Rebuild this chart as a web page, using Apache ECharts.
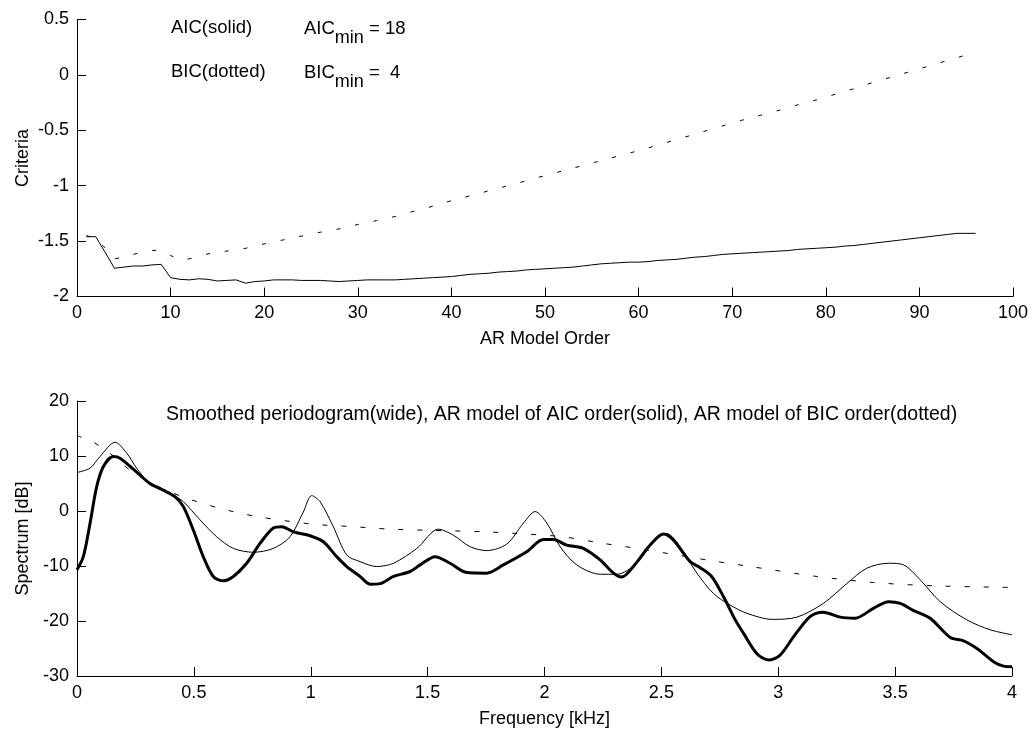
<!DOCTYPE html>
<html>
<head>
<meta charset="utf-8">
<script src="https://cdn.jsdelivr.net/npm/echarts@6/dist/echarts.min.js"></script>
<style>
  html, body { margin: 0; padding: 0; background: #fff; }
  #chart { width: 1033px; height: 731px; }
</style>
</head>
<body>
<div id="chart"></div>
<script>
// ---- Upper panel: order-selection criteria vs AR model order ----
const orders = [
  1, 2, 3, 4, 5, 6, 7, 8, 9, 10, 11, 12, 13, 14, 15, 16, 17, 18, 19, 20,
  21, 22, 23, 24, 25, 26, 27, 28, 29, 30, 31, 32, 33, 34, 35, 36, 37, 38, 39, 40,
  41, 42, 43, 44, 45, 46, 47, 48, 49, 50, 51, 52, 53, 54, 55, 56, 57, 58, 59, 60,
  61, 62, 63, 64, 65, 66, 67, 68, 69, 70, 71, 72, 73, 74, 75, 76, 77, 78, 79, 80,
  81, 82, 83, 84, 85, 86, 87, 88, 89, 90, 91, 92, 93, 94, 95, 96
];
const aicValues = [
  -1.46, -1.46, -1.60, -1.745, -1.735, -1.725, -1.725, -1.715, -1.71, -1.83,
  -1.845, -1.85, -1.84, -1.845, -1.86, -1.855, -1.85, -1.88, -1.865, -1.86,
  -1.85, -1.85, -1.85, -1.855, -1.855, -1.855, -1.86, -1.865, -1.86, -1.855,
  -1.85, -1.85, -1.85, -1.85, -1.845, -1.84, -1.835, -1.83, -1.825, -1.82,
  -1.81, -1.80, -1.795, -1.79, -1.78, -1.775, -1.77, -1.76, -1.755, -1.75,
  -1.745, -1.74, -1.735, -1.725, -1.715, -1.705, -1.70, -1.695, -1.69, -1.69,
  -1.685, -1.675, -1.67, -1.665, -1.655, -1.645, -1.64, -1.63, -1.62, -1.615,
  -1.61, -1.605, -1.60, -1.595, -1.59, -1.585, -1.575, -1.57, -1.565, -1.56,
  -1.555, -1.545, -1.54, -1.53, -1.52, -1.51, -1.50, -1.49, -1.48, -1.47,
  -1.46, -1.45, -1.44, -1.43, -1.43, -1.43
];
const bicValues = [
  -1.45, -1.48, -1.56, -1.66, -1.645, -1.62, -1.60, -1.585, -1.58, -1.63,
  -1.67, -1.66, -1.64, -1.615, -1.60, -1.59, -1.58, -1.565, -1.545, -1.525,
  -1.505, -1.49, -1.47, -1.455, -1.435, -1.42, -1.405, -1.39, -1.37, -1.35,
  -1.335, -1.315, -1.295, -1.278, -1.255, -1.23, -1.21, -1.185, -1.16, -1.135,
  -1.115, -1.09, -1.07, -1.045, -1.025, -1.0, -0.98, -0.955, -0.93, -0.91,
  -0.885, -0.865, -0.84, -0.82, -0.795, -0.775, -0.75, -0.73, -0.705, -0.685,
  -0.66, -0.635, -0.61, -0.585, -0.56, -0.535, -0.51, -0.485, -0.46, -0.435,
  -0.41, -0.39, -0.365, -0.34, -0.32, -0.295, -0.27, -0.25, -0.225, -0.20,
  -0.175, -0.15, -0.125, -0.095, -0.07, -0.045, -0.02, 0.005, 0.03, 0.055,
  0.08, 0.105, 0.13, 0.155, 0.18, 0.205
];
const aicMin = 18;
const bicMin = 4;

// ---- Lower panel: spectra vs frequency [kHz] ----
const periodogramFreq = [
  0, 0.027, 0.056, 0.084, 0.113, 0.155, 0.184, 0.241, 0.312, 0.369,
  0.419, 0.455, 0.498, 0.54, 0.583, 0.626, 0.669, 0.726, 0.783, 0.84,
  0.876, 0.926, 0.997, 1.054, 1.111, 1.154, 1.211, 1.254, 1.297, 1.354,
  1.425, 1.468, 1.532, 1.596, 1.667, 1.753, 1.824, 1.924, 1.995, 2.038,
  2.095, 2.166, 2.238, 2.295, 2.331, 2.38, 2.452, 2.509, 2.552, 2.623,
  2.666, 2.715, 2.766, 2.816, 2.851, 2.908, 2.958, 3.008, 3.065, 3.136,
  3.193, 3.265, 3.329, 3.407, 3.472, 3.522, 3.579, 3.65, 3.736, 3.793,
  3.85, 3.921, 3.964, 4.0
];
const periodogramDb = [
  -10.7, -8.3, -2.2, 4.4, 8.1, 9.9, 9.6, 7.6, 5.0, 3.8,
  2.6, 0.8, -3.5, -8.3, -11.9, -12.7, -11.9, -9.5, -5.9, -3.1,
  -2.85, -3.8, -4.5, -5.6, -8.3, -10.1, -11.9, -13.3, -13.2, -11.9,
  -11.0, -9.8, -8.3, -9.5, -11.2, -11.3, -9.8, -7.4, -5.2, -5.2,
  -6.2, -6.8, -8.9, -11.3, -12.0, -10.1, -6.2, -4.2, -5.3, -9.2,
  -10.3, -11.9, -15.6, -19.8, -22.2, -25.9, -27.1, -26.2, -22.9, -19.2,
  -18.4, -19.3, -19.5, -17.7, -16.5, -16.8, -18.1, -19.5, -23.0, -23.6,
  -25.0, -27.4, -28.2, -28.3
];
const arAicFreq = [
  0, 0.056, 0.098, 0.163, 0.213, 0.255, 0.312, 0.369, 0.42, 0.455,
  0.526, 0.598, 0.669, 0.755, 0.84, 0.911, 0.968, 1.004, 1.04, 1.097,
  1.154, 1.211, 1.282, 1.354, 1.454, 1.546, 1.61, 1.682, 1.753, 1.839,
  1.91, 1.96, 2.01, 2.067, 2.138, 2.238, 2.309, 2.395, 2.466, 2.523,
  2.58, 2.652, 2.723, 2.794, 2.866, 2.973, 3.08, 3.193, 3.293, 3.379,
  3.472, 3.536, 3.607, 3.693, 3.807, 3.907, 4.0
];
const arAicDb = [
  7.0, 7.8, 9.9, 12.5, 10.5, 7.8, 5.0, 3.9, 2.7, 1.7,
  -1.6, -4.7, -6.8, -7.5, -6.8, -4.7, -0.2, 2.8, 1.7, -2.9,
  -8.0, -9.2, -10.1, -9.5, -6.8, -3.3, -4.4, -6.5, -7.2, -6.0,
  -2.2, -0.1, -2.2, -6.5, -9.8, -11.5, -11.5, -9.5, -5.6, -4.1,
  -6.5, -11.3, -15.0, -17.1, -18.6, -19.7, -19.3, -16.8, -13.2, -10.4,
  -9.5, -9.8, -12.5, -16.5, -19.8, -21.6, -22.5
];
const arBicFreq = [
  0, 0.07, 0.141, 0.23, 0.327, 0.398, 0.469, 0.619, 0.769, 1.011,
  1.183, 1.339, 1.5, 1.753, 1.924, 2.081, 2.238, 2.395, 2.552, 2.709,
  2.866, 3.165, 3.407, 3.664, 4.0
];
const arBicDb = [
  13.7, 12.5, 10.5, 7.3, 4.9, 3.5, 2.3, 0.4, -1.0, -2.4,
  -2.85, -3.3, -3.5, -3.8, -4.2, -4.7, -5.8, -6.8, -7.9, -9.0,
  -10.0, -11.9, -13.0, -13.6, -13.9
];

const FONT = '"Liberation Sans", Arial, Helvetica, sans-serif';
const FS = 18;

function pairs(xs, ys) { return xs.map((x, i) => [x, ys[i]]); }

function xAxisCfg(grid, min, max, interval, name) {
  return {
    type: 'value', gridIndex: grid, min: min, max: max, interval: interval,
    name: name, nameLocation: 'middle', nameGap: 34,
    nameTextStyle: { color: '#000', fontSize: FS, fontFamily: FONT },
    axisLine: { show: true, onZero: false, lineStyle: { color: '#000', width: 1 } },
    axisTick: { show: true, inside: true, length: 9, lineStyle: { color: '#000', width: 1 } },
    axisLabel: { color: '#000', fontSize: FS, fontFamily: FONT, margin: 8 },
    splitLine: { show: false }
  };
}
function yAxisCfg(grid, min, max, interval, name) {
  return {
    type: 'value', gridIndex: grid, min: min, max: max, interval: interval,
    name: name, nameLocation: 'middle', nameGap: 45, nameMoveOverlap: false,
    nameTextStyle: { color: '#000', fontSize: FS, fontFamily: FONT },
    axisLine: { show: true, onZero: false, lineStyle: { color: '#000', width: 1 } },
    axisTick: { show: true, inside: true, length: 9, lineStyle: { color: '#000', width: 1 } },
    axisLabel: { color: '#000', fontSize: FS, fontFamily: FONT, margin: 8 },
    splitLine: { show: false }
  };
}
function lineSeries(x, y, data, width, dash) {
  return {
    type: 'line', xAxisIndex: x, yAxisIndex: y, data: data,
    symbol: 'none', showSymbol: false, smooth: false, animation: false,
    lineStyle: { color: '#000', width: width, type: dash || 'solid' },
    z: 3
  };
}

// main text + lowered subscript for the AIC_min / BIC_min notes
const rich = {
  a: { fontSize: 18.5, fontFamily: FONT, fill: '#000', lineHeight: 22 },
  b: { fontSize: 18, fontFamily: FONT, fill: '#000', padding: [18, 0, 0, 0], lineHeight: 16 }
};

const chart = echarts.init(document.getElementById('chart'), null, { renderer: 'canvas' });
chart.setOption({
  backgroundColor: '#fff',
  animation: false,
  textStyle: { fontFamily: FONT },
  grid: [
    { left: 77, top: 19.5, width: 936, height: 277 },
    { left: 77, top: 401, width: 935, height: 275 }
  ],
  xAxis: [
    xAxisCfg(0, 0, 100, 10, 'AR Model Order'),
    xAxisCfg(1, 0, 4, 0.5, 'Frequency [kHz]')
  ],
  yAxis: [
    yAxisCfg(0, -2, 0.5, 0.5, 'Criteria'),
    yAxisCfg(1, -30, 20, 10, 'Spectrum [dB]')
  ],
  series: [
    lineSeries(0, 0, pairs(orders, aicValues), 1),
    lineSeries(0, 0, pairs(orders, bicValues), 1, [4, 15]),
    Object.assign(lineSeries(1, 1, pairs(arBicFreq, arBicDb), 1, [5, 14]), { smooth: 0.3 }),
    Object.assign(lineSeries(1, 1, pairs(arAicFreq, arAicDb), 1), { smooth: 0.3 }),
    Object.assign(lineSeries(1, 1, pairs(periodogramFreq, periodogramDb), 3), { smooth: 0.3 })
  ],
  graphic: [
    { type: 'text', left: 171, top: 18, style: { text: 'AIC(solid)', font: '18.5px ' + FONT, fill: '#000' } },
    { type: 'text', left: 171, top: 62, style: { text: 'BIC(dotted)', font: '18.5px ' + FONT, fill: '#000' } },
    { type: 'text', left: 304, top: 11, style: { text: '{a|AIC}{b|min}{a| = ' + aicMin + '}', rich: rich } },
    { type: 'text', left: 304, top: 55, style: { text: '{a|BIC}{b|min}{a| =  ' + bicMin + '}', rich: rich } },
    { type: 'text', left: 166, top: 405,
      style: { text: 'Smoothed periodogram(wide), AR model of AIC order(solid), AR model of BIC order(dotted)',
               font: '19.5px ' + FONT, fill: '#000' } }
  ]
});
</script>
</body>
</html>
